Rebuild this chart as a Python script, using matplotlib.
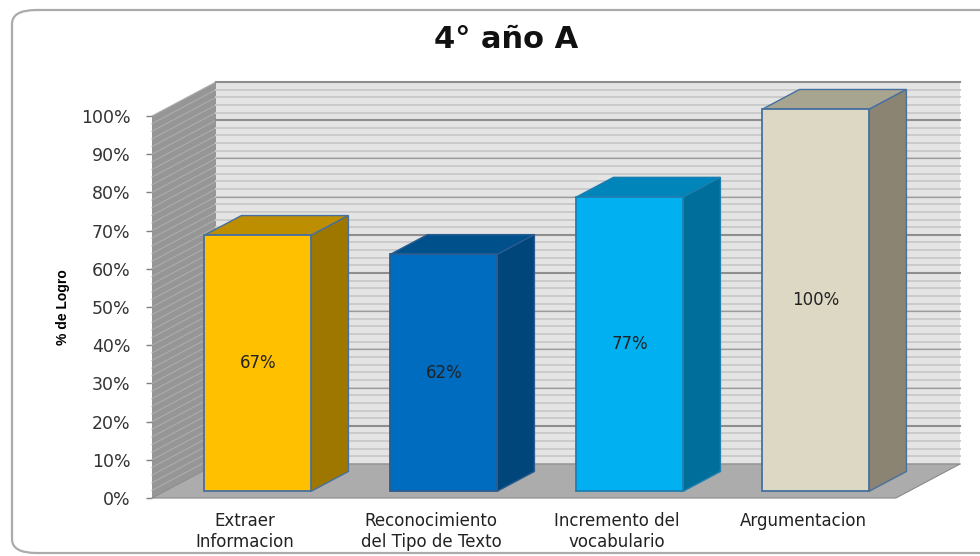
import matplotlib
matplotlib.use('Agg')
import matplotlib.pyplot as plt
from matplotlib.patches import Polygon, FancyBboxPatch

plt.rcParams['font.family'] = 'DejaVu Sans'

title = '4° año A'
categories = ['Extraer\nInformacion', 'Reconocimiento\ndel Tipo de Texto',
              'Incremento del\nvocabulario', 'Argumentacion']
values = [67, 62, 77, 100]
y_ticks = [0, 10, 20, 30, 40, 50, 60, 70, 80, 90, 100]
y_labels = ['0%', '10%', '20%', '30%', '40%', '50%', '60%', '70%', '80%', '90%', '100%']
strong_lines = [100, 90, 60, 50, 10]
mid_lines = [70, 40, 30, 20, 80]
front_colors = ['#FFC000', '#006CBF', '#00B0F0', '#DDD8C4']
top_colors = ['#BC8E00', '#00508C', '#0085BB', '#A7A48F']
side_colors = ['#9E7700', '#00467A', '#006E9B', '#8C8473']
edge_colors = ['#47709F', '#2A5C90', '#1E7FB0', '#47709F']

# depth of the fake 3d box, in data units
DX = 64 / 186
DY = 34 / 3.82
BAR_W = 107 / 186
D0, D1 = 0.2, 0.78


def pr(x, y, d=0):
    return (x + d * DX, y + d * DY)


fig = plt.figure(figsize=(9.8, 5.56), dpi=100)
W, H = 980, 556
frame = FancyBboxPatch((12 / W, (H - 553) / H), 1040 / W, 543 / H,
                       boxstyle='round,pad=0,rounding_size=0.025',
                       transform=fig.transFigure, fc='white', ec='#ABABAB', lw=1.6, zorder=-1)
fig.add_artist(frame)
ax = fig.add_axes([152 / W, (H - 498) / H, 744 / W, 382 / H])
ax.set_xlim(-0.5, 3.5)
ax.set_ylim(0, 100)
ax.patch.set_visible(False)
for s in ax.spines.values():
    s.set_visible(False)

xl, xr = -0.5, 3.5

# walls and floor
ax.add_patch(Polygon([pr(xl, 0, 1), pr(xr, 0, 1), pr(xr, 100, 1), pr(xl, 100, 1)],
                     fc='#E4E4E4', ec='none', clip_on=False, zorder=1))
ax.add_patch(Polygon([pr(xl, 0), pr(xl, 0, 1), pr(xl, 100, 1), pr(xl, 100)],
                     fc='#969696', ec='none', clip_on=False, zorder=1))
for v in range(0, 101, 2):
    a, b, c = pr(xl, v), pr(xl, v, 1), pr(xr, v, 1)
    ax.plot([a[0], b[0]], [a[1], b[1]], color='#ADADAD', lw=0.8, clip_on=False, zorder=2)
    ax.plot([b[0], c[0]], [b[1], c[1]], color='#CBCBCB', lw=1.4, clip_on=False, zorder=2)
for v in strong_lines:
    b, c = pr(xl, v, 1), pr(xr, v, 1)
    ax.plot([b[0], c[0]], [b[1], c[1]], color='#8E8E8E', lw=1.5, clip_on=False, zorder=3)
for v in mid_lines:
    b, c = pr(xl, v, 1), pr(xr, v, 1)
    ax.plot([b[0], c[0]], [b[1], c[1]], color='#9C9C9C', lw=0.9, clip_on=False, zorder=3)
ax.add_patch(Polygon([pr(xl, 0), pr(xl, 0, 1), pr(xr, 0, 1), pr(xr, 0)],
                     fc='#ACACAC', ec='#8A8A8A', lw=0.8, clip_on=False, zorder=4))

# bars
for i, v in enumerate(values):
    x0, x1 = i - BAR_W / 2, i + BAR_W / 2
    edge = edge_colors[i]
    ax.add_patch(Polygon([pr(x0, v, D0), pr(x1, v, D0), pr(x1, v, D1), pr(x0, v, D1)],
                         fc=top_colors[i], ec=edge, lw=1, clip_on=False, zorder=5))
    ax.add_patch(Polygon([pr(x1, 0, D0), pr(x1, 0, D1), pr(x1, v, D1), pr(x1, v, D0)],
                         fc=side_colors[i], ec=edge, lw=1, clip_on=False, zorder=5))
    ax.add_patch(Polygon([pr(x0, 0, D0), pr(x1, 0, D0), pr(x1, v, D0), pr(x0, v, D0)],
                         fc=front_colors[i], ec=edge, lw=1.3, clip_on=False, zorder=6))
    tx, ty = pr(i, v / 2, D0)
    ax.text(tx, ty, f'{v}%', ha='center', va='center', fontsize=12, color='#222222', zorder=7)

ax.set_xticks(range(4))
ax.set_xticklabels(categories, fontsize=12, color='#222222', linespacing=1.2)
ax.tick_params(axis='x', length=0, pad=10)
ax.set_yticks(y_ticks)
ax.set_yticklabels(y_labels, fontsize=12.5, color='#333333')
ax.tick_params(axis='y', length=4.5, width=1, color='#808080', pad=11)

fig.text(63 / W, (H - 307) / H, '% de Logro', rotation=90, ha='center', va='center',
         fontsize=10, fontweight='bold', family='Liberation Sans')
fig.text(506 / W, (H - 40) / H, title, ha='center', va='center', fontsize=22,
         fontweight='bold', color='#111111')

fig.savefig('out.png', dpi=100)
